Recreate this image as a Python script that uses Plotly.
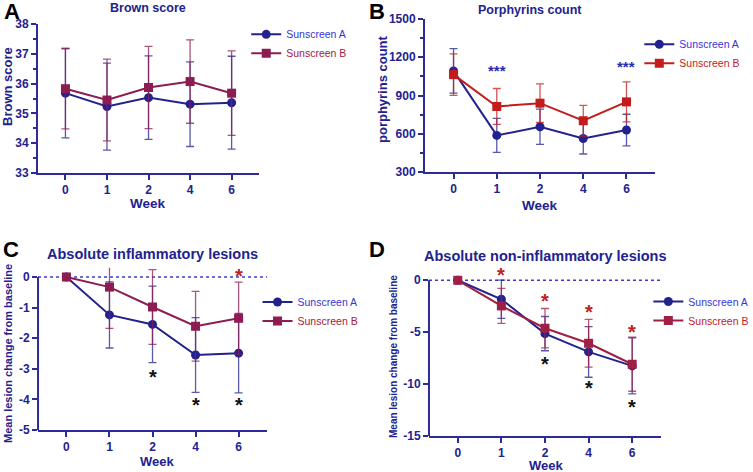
import plotly.graph_objects as go

weeks = ["0", "1", "2", "4", "6"]
xi = [0, 1, 2, 3, 4]

# Panel A: Brown score
brown_a = [35.68, 35.23, 35.53, 35.31, 35.36]
brown_a_sd = [1.50, 1.46, 1.40, 1.42, 1.56]
brown_b = [35.83, 35.45, 35.87, 36.07, 35.68]
brown_b_sd = [1.35, 1.37, 1.38, 1.40, 1.42]
brown_ticks = [33, 34, 35, 36, 37, 38]

# Panel B: Porphyrins count
porph_a = [1093, 587, 655, 563, 629]
porph_a_sd = [175, 133, 138, 122, 124]
porph_b = [1064, 814, 840, 702, 850]
porph_b_sd = [163, 141, 151, 120, 157]
porph_sig_x = [1, 4]
porph_sig_y = [1095, 1125]
porph_ticks = [300, 600, 900, 1200, 1500]

# Panel C: Absolute inflammatory lesions
infl_a = [0, -1.24, -1.55, -2.55, -2.49]
infl_a_sd = [0, 1.08, 1.25, 1.22, 1.30]
infl_b = [0, -0.33, -0.98, -1.61, -1.35]
infl_b_sd = [0, 1.35, 1.22, 1.14, 1.18]
infl_sigA_x = [2, 3, 4]
infl_sigA_y = [-3.17, -4.10, -4.10]
infl_sigB_x = [4]
infl_sigB_y = [0.12]
infl_ticks = [-5, -4, -3, -2, -1, 0]

# Panel D: Absolute non-inflammatory lesions
noninf_a = [0, -1.83, -5.14, -6.90, -8.25]
noninf_a_sd = [0, 1.85, 1.65, 2.44, 2.70]
noninf_b = [0, -2.47, -4.62, -6.07, -8.09]
noninf_b_sd = [0, 1.68, 1.90, 2.30, 2.60]
noninf_sigA_x = [2, 3, 4]
noninf_sigA_y = [-7.74, -10.10, -11.88]
noninf_sigB_x = [1, 2, 3, 4]
noninf_sigB_y = [0.77, -1.73, -2.73, -4.66]
noninf_ticks = [-15, -10, -5, 0]

NAVY = "#22228f"
AXC = "#2b2b9c"
BLUE_TXT = "#3535d6"
MAROON = "#8c1c52"
RED = "#c41c1c"
FONT = "Liberation Sans, Arial, sans-serif"
W, H = 753, 472

fig = go.Figure()

panels = [
    ("", brown_a, brown_a_sd, brown_b, brown_b_sd, MAROON, "#a3203f", "legend"),
    ("2", porph_a, porph_a_sd, porph_b, porph_b_sd, RED, "#c42020", "legend2"),
    ("3", infl_a, infl_a_sd, infl_b, infl_b_sd, MAROON, "#a3203f", "legend3"),
    ("4", noninf_a, noninf_a_sd, noninf_b, noninf_b_sd, "#a01f45", "#c42020", "legend4"),
]

def rgba(hexc, a):
    h = hexc.lstrip("#")
    return f"rgba({int(h[0:2],16)},{int(h[2:4],16)},{int(h[4:6],16)},{a})"

for suf, ya, sa, yb, sb, colb, txtb, leg in panels:
    for name, y, s, col, sym, tcol in [
        ("Sunscreen A", ya, sa, NAVY, "circle", BLUE_TXT),
        ("Sunscreen B", yb, sb, colb, "square", txtb),
    ]:
        fig.add_trace(go.Scatter(
            x=xi, y=y, mode="lines+markers",
            name=f"<span style='color:{tcol}'>{name}</span>",
            line=dict(color=col, width=2),
            marker=dict(symbol=sym, size=9, color=col),
            error_y=dict(type="data", array=s, visible=True, color=rgba(col, 0.75),
                         thickness=1.3, width=4),
            xaxis="x" + suf, yaxis="y" + suf, legend=leg, cliponaxis=False,
        ))

def star(xs, ys, txt, col, size, suf, yshift):
    for x, y in zip(xs, ys):
        fig.add_annotation(x=x, y=y, xref="x" + suf, yref="y" + suf, text=f"<b>{txt}</b>",
                           showarrow=False, font=dict(color=col, size=size, family=FONT),
                           yshift=yshift)

star(porph_sig_x, porph_sig_y, "***", "#2a2ab0", 15, "2", 0)
star(infl_sigA_x, infl_sigA_y, "*", "#111111", 20, "3", -3)
star(infl_sigB_x, infl_sigB_y, "*", "#c42020", 20, "3", -3)
star(noninf_sigA_x, noninf_sigA_y, "*", "#111111", 20, "4", -3)
star(noninf_sigB_x, noninf_sigB_y, "*", "#c42020", 20, "4", -3)

def xax(dom, anchor):
    return dict(domain=dom, anchor=anchor, range=[-0.66, 4.66], tickvals=xi, ticktext=weeks,
                showline=True, linecolor=AXC, linewidth=2, ticks="outside", ticklen=5,
                tickwidth=2, tickcolor=AXC, showgrid=False, zeroline=False, automargin=False,
                tickfont=dict(family=FONT, size=12, color=NAVY, weight="bold"))

def yax(dom, anchor, rng, ticks, minor=None, line=True):
    d = dict(domain=dom, anchor=anchor, range=rng, tickvals=ticks,
             ticktext=[str(t) for t in ticks],
             showline=line, linecolor=AXC, linewidth=2, ticks="outside", ticklen=5,
             tickwidth=2, tickcolor=AXC, showgrid=False, zeroline=False, automargin=False,
             tickfont=dict(family=FONT, size=12, color=NAVY, weight="bold"))
    if minor:
        d["minor"] = dict(dtick=minor, tick0=rng[0], ticks="outside", ticklen=3,
                          tickwidth=1.5, tickcolor=AXC, showgrid=False)
    return d

fig.update_layout(
    width=W, height=H, margin=dict(l=0, r=0, t=0, b=0, autoexpand=False),
    paper_bgcolor="white", plot_bgcolor="white",
    font=dict(family=FONT),
    xaxis=xax([0.0505, 0.344], "y"),
    yaxis=yax([0.6335, 0.949], "x", [33, 38], brown_ticks, 0.5),
    xaxis2=xax([0.5644, 0.8699], "y2"),
    yaxis2=yax([0.6356, 0.9597], "x2", [300, 1500], porph_ticks, 150),
    xaxis3=xax([0.0505, 0.3546], "y3"),
    yaxis3=yax([0.089, 0.4326], "x3", [-5, 0.3], infl_ticks, line=False),
    xaxis4=xax([0.5697, 0.8778], "y4"),
    yaxis4=yax([0.0763, 0.4326], "x4", [-15, 1.2], noninf_ticks, line=False),
)

legfont = dict(family=FONT, size=10.5)
for lg, x, y in [("legend", 0.327, 0.958), ("legend2", 0.849, 0.937),
                 ("legend3", 0.342, 0.391), ("legend4", 0.861, 0.392)]:
    fig.update_layout({lg: dict(x=x, y=y, xanchor="left", yanchor="top", font=legfont,
                                bgcolor="rgba(0,0,0,0)", itemwidth=30, tracegroupgap=0)})

# zero reference lines and y axis lines ending at 0 (panels C, D)
for xa, ya, lo in [("x3", "y3", infl_ticks[0]), ("x4", "y4", noninf_ticks[0])]:
    fig.add_shape(type="line", xref=f"{xa} domain", yref=ya, x0=0, x1=1, y0=0, y1=0,
                  line=dict(color="#3b3bc8", width=1.5, dash="dot"), layer="below")
    fig.add_shape(type="line", xref=f"{xa} domain", yref=ya, x0=0, x1=0, y0=lo, y1=0,
                  line=dict(color=AXC, width=2), layer="above")

def label(t, px, py, sz, col=NAVY, angle=0):
    fig.add_annotation(x=px / W, y=1 - py / H, xref="paper", yref="paper", text=f"<b>{t}</b>",
                       showarrow=False, xanchor="center", yanchor="middle", textangle=angle,
                       font=dict(family=FONT, size=sz, color=col))

# panel titles
label("Brown score", 148, 8, 12.5)
label("Porphyrins count", 530, 10, 12.5)
label("Absolute inflammatory lesions", 152, 254, 14.5)
label("Absolute non-inflammatory lesions", 545, 256, 14.5)

# axis titles
label("Week", 148, 204, 13.5)
label("Week", 540, 206, 13.5)
label("Week", 157, 461, 13)
label("Week", 546, 465, 13)
label("Brown score", 7, 87, 13, angle=-90)
label("porphyrins count", 382, 89, 13, angle=-90)
label("Mean lesion change from baseline", 8, 354, 11, angle=-90)
label("Mean lesion change from baseline", 393, 357, 10, angle=-90)

# panel letters
for t, px, py in [("A", 12, 11), ("B", 377, 11), ("C", 11, 249), ("D", 377, 249)]:
    label(t, px, py, 22, col="black")

fig.write_html("out.html", config={"displayModeBar": False},
               post_script="document.body.style.margin='0';document.body.style.padding='0';")
